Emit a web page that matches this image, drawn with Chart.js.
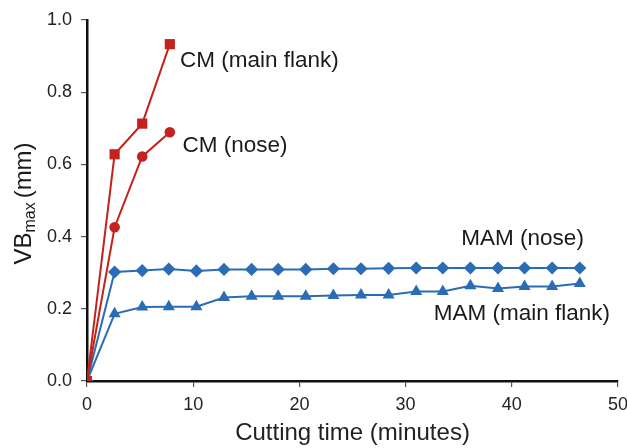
<!DOCTYPE html>
<html>
<head>
<meta charset="utf-8">
<script src="https://cdn.jsdelivr.net/npm/chart.js@4/dist/chart.umd.min.js"></script>
<style>
  html, body { margin: 0; padding: 0; background: #fff; }
  #wrap { width: 627px; height: 448px; position: relative; }
</style>
</head>
<body>
<div id="wrap"><canvas id="myChart"></canvas></div>
<script>
// cutting time of each pass (minutes)
const cmTime = [0, 2.6, 5.2, 7.8];
const mamTime = [0, 2.6, 5.2, 7.7, 10.3, 12.9, 15.5, 18.0, 20.6, 23.2, 25.8, 28.4, 31.0, 33.5, 36.1, 38.7, 41.2, 43.8, 46.4];

// VBmax (mm)
const cmMainFlank = [0, 0.628, 0.713, 0.933];
const cmNose = [0, 0.426, 0.622, 0.689];
const mamNose = [0, 0.302, 0.306, 0.310, 0.305, 0.309, 0.309, 0.309, 0.309, 0.311, 0.311, 0.312, 0.313, 0.313, 0.313, 0.313, 0.313, 0.313, 0.313];
const mamMainFlank = [0, 0.186, 0.205, 0.206, 0.206, 0.231, 0.235, 0.235, 0.235, 0.237, 0.238, 0.238, 0.248, 0.248, 0.264, 0.256, 0.262, 0.262, 0.270];

const seriesNames = ["CM (main flank)", "CM (nose)", "MAM (nose)", "MAM (main flank)"];
const xTicks = [0, 10, 20, 30, 40, 50];
const yTicks = [0, 0.2, 0.4, 0.6, 0.8, 1.0];

const red = "#c4221d";
const blue = "#2a6db4";

function pts(xs, ys) {
  let out = [];
  for (let i = 0; i < xs.length; i++) out.push({ x: xs[i], y: ys[i] });
  return out;
}

// where the series names sit (data coordinates, left/baseline)
const labelSpots = [
  { x: 8.75, y: 0.871 },
  { x: 9.0, y: 0.635 },
  { x: 35.25, y: 0.377 },
  { x: 32.65, y: 0.169 }
];

const labelPlugin = {
  id: "labels",
  afterDraw(chart) {
    const ctx = chart.ctx;
    const xs = chart.scales.x, ys = chart.scales.y;
    ctx.save();
    ctx.fillStyle = "#1a1a1a";
    ctx.font = "22.5px 'Liberation Sans', Arial, sans-serif";
    ctx.textBaseline = "alphabetic";
    ctx.textAlign = "left";
    for (let i = 0; i < seriesNames.length; i++) {
      ctx.fillText(seriesNames[i], xs.getPixelForValue(labelSpots[i].x), ys.getPixelForValue(labelSpots[i].y));
    }
    // y axis title with subscript
    const a = chart.chartArea;
    const big = "24px 'Liberation Sans', Arial, sans-serif";
    const small = "16px 'Liberation Sans', Arial, sans-serif";
    ctx.font = big;
    const w1 = ctx.measureText("VB").width;
    const w3 = ctx.measureText("(mm)").width;
    ctx.font = small;
    const w2 = ctx.measureText("max").width;
    const gap = 4;
    const total = w1 + w2 + gap + w3;
    ctx.translate(31, (a.top + a.bottom) / 2 + 3);
    ctx.rotate(-Math.PI / 2);
    let x = -total / 2;
    ctx.font = big;
    ctx.fillText("VB", x, 0);
    x += w1;
    ctx.font = small;
    ctx.fillText("max", x, 4);
    x += w2 + gap;
    ctx.font = big;
    ctx.fillText("(mm)", x, 0);
    ctx.restore();
  }
};

new Chart("myChart", {
  type: "scatter",
  data: {
    datasets: [
      {
        label: seriesNames[0], data: pts(cmTime, cmMainFlank), showLine: true,
        borderColor: red, backgroundColor: red, borderWidth: 2,
        pointStyle: "rect", pointRadius: 7.2, pointBorderWidth: 0
      },
      {
        label: seriesNames[1], data: pts(cmTime, cmNose), showLine: true,
        borderColor: red, backgroundColor: red, borderWidth: 2,
        pointStyle: "circle", pointRadius: 5.3, pointBorderWidth: 0
      },
      {
        label: seriesNames[2], data: pts(mamTime, mamNose), showLine: true,
        borderColor: blue, backgroundColor: blue, borderWidth: 2,
        pointStyle: "rectRot", pointRadius: 6.6, pointBorderWidth: 0
      },
      {
        label: seriesNames[3], data: pts(mamTime, mamMainFlank), showLine: true,
        borderColor: blue, backgroundColor: blue, borderWidth: 2,
        pointStyle: "triangle", pointRadius: 7, pointBorderWidth: 0
      }
    ]
  },
  options: {
    responsive: true,
    maintainAspectRatio: false,
    animation: false,
    devicePixelRatio: 1,
    layout: { padding: { top: 20, right: 9, left: 0, bottom: 0 } },
    plugins: { legend: { display: false }, tooltip: { enabled: false } },
    scales: {
      x: {
        type: "linear", min: 0, max: 50,
        afterBuildTicks: s => { s.ticks = xTicks.map(v => ({ value: v })); },
        afterFit: s => { s.height = 67; s.paddingLeft = 0; s.paddingRight = 0; },
        border: { display: true, color: "#111", width: 2.5 },
        grid: { drawOnChartArea: false, drawTicks: true, tickLength: 6, color: "#555", lineWidth: 1.2 },
        ticks: { color: "#222", padding: 7, font: { family: "'Liberation Sans', Arial, sans-serif", size: 18 } },
        title: {
          display: true, text: "Cutting time (minutes)", color: "#222",
          font: { family: "'Liberation Sans', Arial, sans-serif", size: 24 }, padding: { top: 3, bottom: 0 }
        }
      },
      y: {
        type: "linear", min: 0, max: 1,
        afterBuildTicks: s => { s.ticks = yTicks.map(v => ({ value: v })); },
        afterFit: s => { s.width = 87; s.paddingTop = 0; s.paddingBottom = 0; },
        border: { display: true, color: "#111", width: 2.5 },
        grid: { drawOnChartArea: false, drawTicks: true, tickLength: 6, color: "#555", lineWidth: 1.2 },
        ticks: {
          color: "#222", padding: 9,
          font: { family: "'Liberation Sans', Arial, sans-serif", size: 18 },
          callback: v => v.toFixed(1)
        }
      }
    }
  },
  plugins: [labelPlugin]
});
</script>
</body>
</html>
